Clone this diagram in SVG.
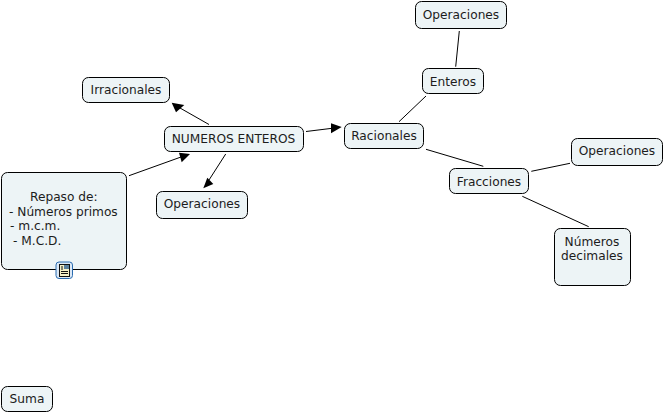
<svg xmlns="http://www.w3.org/2000/svg" width="664" height="413" viewBox="0 0 664 413">
<style>
.n{fill:#edf4f6;stroke:#000;stroke-width:1}
text{font-family:"DejaVu Sans",Verdana,sans-serif;font-size:12.2px;fill:#1c1c1c}
.c{text-anchor:middle}
.l{fill:none;stroke:#000;stroke-width:1}
.h{fill:#000;stroke:none}
</style>
<rect width="664" height="413" fill="#fff"/>
<g id="connectors">
<line class="l" x1="209" y1="124.5" x2="180" y2="108"/><polygon class="h" points="171.7,102.7 184.3,105 176,112.3"/>
<line class="l" x1="129" y1="175.7" x2="181" y2="157"/><polygon class="h" points="190,154 179,152.7 181.7,162.3"/>
<line class="l" x1="225.7" y1="154" x2="209" y2="180"/><polygon class="h" points="203.3,188.3 207.3,177.7 213.3,184"/>
<line class="l" x1="306" y1="131.5" x2="332" y2="128.3"/><polygon class="h" points="341.7,127 331,123.3 331,133.3"/>
<line class="l" x1="459.3" y1="31" x2="455.7" y2="66.7"/>
<line class="l" x1="399" y1="121.7" x2="426" y2="96"/>
<line class="l" x1="426" y1="149.3" x2="483.3" y2="166.3"/>
<line class="l" x1="531.3" y1="171.3" x2="570" y2="163.3"/>
<line class="l" x1="522.3" y1="196.3" x2="588.7" y2="226.7"/>
</g>
<g id="irracionales"><rect class="n" x="82.5" y="77.5" width="87" height="25" rx="6"/><text class="c" x="126" y="94">Irracionales</text></g>
<g id="numeros-enteros"><rect class="n" x="164.5" y="126.5" width="139" height="25" rx="6"/><text class="c" x="233.5" y="143">NUMEROS ENTEROS</text></g>
<g id="repaso"><rect class="n" x="1.5" y="172.5" width="125" height="97" rx="6"/>
<text x="30" y="201">Repaso de:</text><text x="9" y="216">- Números primos</text><text x="10" y="230">- m.c.m.</text><text x="13" y="245">- M.C.D.</text>
<g id="icon"><rect x="56" y="262" width="16.500" height="16.500" rx="3" fill="#dbe8f6" stroke="#2b6cb0"/><rect x="59.5" y="264.5" width="10" height="12" fill="#f5f0c8" stroke="#111"/><rect x="64" y="265" width="5" height="4" fill="#5a7f9c"/><path d="M61 267h2M61 269h2M61 271.500h7M61 273.500h7" stroke="#111" stroke-width="1" fill="none"/></g></g>
<g id="operaciones-izq"><rect class="n" x="156.5" y="191.5" width="91" height="27" rx="6"/><text class="c" x="202" y="208">Operaciones</text></g>
<g id="operaciones-sup"><rect class="n" x="415.5" y="1.5" width="91" height="27" rx="6"/><text class="c" x="461" y="18.500">Operaciones</text></g>
<g id="enteros"><rect class="n" x="422.5" y="68.500" width="61" height="25" rx="6"/><text class="c" x="453" y="86">Enteros</text></g>
<g id="racionales"><rect class="n" x="344.5" y="123.5" width="79" height="25" rx="6"/><text class="c" x="384" y="140">Racionales</text></g>
<g id="fracciones"><rect class="n" x="449.5" y="168.5" width="79" height="25" rx="6"/><text class="c" x="489" y="186">Fracciones</text></g>
<g id="operaciones-der"><rect class="n" x="571.5" y="138.5" width="91" height="27" rx="6"/><text class="c" x="617" y="155">Operaciones</text></g>
<g id="numeros-decimales"><rect class="n" x="554.5" y="228.5" width="76" height="57" rx="6"/><text class="c" x="592" y="246">Números</text><text class="c" x="592" y="260">decimales</text></g>
<g id="suma"><rect class="n" x="1.5" y="386.5" width="51" height="25" rx="6"/><text class="c" x="27" y="403">Suma</text></g>
</svg>
